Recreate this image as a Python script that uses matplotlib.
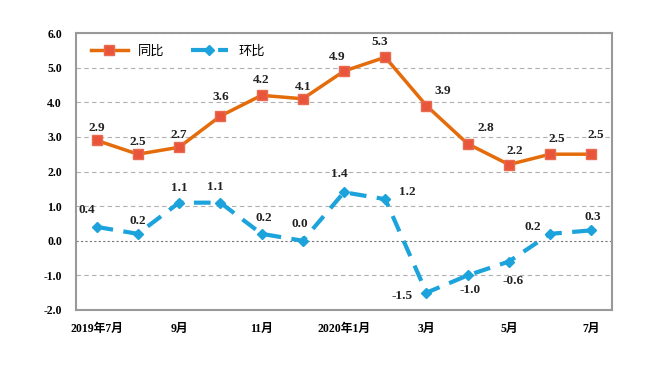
import matplotlib
matplotlib.use("Agg")
import matplotlib.pyplot as plt

plt.rcParams['font.family'] = ['Liberation Serif', 'Noto Sans CJK SC', 'DejaVu Sans']

months = ['2019年7月', '8月', '9月', '10月', '11月', '12月', '2020年1月',
          '2月', '3月', '4月', '5月', '6月', '7月']
tongbi = [2.9, 2.5, 2.7, 3.6, 4.2, 4.1, 4.9, 5.3, 3.9, 2.8, 2.2, 2.5, 2.5]
huanbi = [0.4, 0.2, 1.1, 1.1, 0.2, 0.0, 1.4, 1.2, -1.5, -1.0, -0.6, 0.2, 0.3]

# label offsets in pixels (dx, dy), dy up positive
tongbi_off = [(0, 12), (0, 12), (0, 12), (0, 19), (0, 15), (0, 12), (-7, 14),
              (-6, 15), (16, 15), (18, 16), (6, 14), (7, 15), (4, 19)]
huanbi_off = [(-10, 17), (0, 13), (0, 15), (-5, 16), (2, 16), (-3, 17), (-5, 18),
              (22, 7), (-24, -3), (2, -15), (4, -19), (-17, 7), (1, 13)]

orange = '#E46C0A'
blue = '#1CA3DC'

fig = plt.figure(figsize=(6.56, 3.66), dpi=100)
ax = fig.add_axes([76 / 656, 1 - 310 / 366, (612 - 76) / 656, (310 - 33) / 366])

x = list(range(len(months)))
ax.plot(x, tongbi, color=orange, linewidth=2.5, marker='s', markersize=7,
        markerfacecolor='#E8553A', markeredgecolor='#E86A50', label='同比', zorder=3)
ax.plot(x, huanbi, color=blue, linewidth=3, linestyle=(0, (4, 2.5)), marker='D',
        markersize=5, markerfacecolor=blue, markeredgecolor=blue, label='环比', zorder=3)

for i, v in enumerate(tongbi):
    dx, dy = tongbi_off[i]
    ax.annotate('%.1f' % v, (i, v), xytext=(dx, dy), textcoords='offset pixels',
                ha='center', va='center', fontsize=9.5, fontweight='bold', color='#222222')
for i, v in enumerate(huanbi):
    dx, dy = huanbi_off[i]
    ax.annotate('%.1f' % v, (i, v), xytext=(dx, dy), textcoords='offset pixels',
                ha='center', va='center', fontsize=9.5, fontweight='bold', color='#222222')

ax.set_xlim(-0.5, len(months) - 0.5)
ax.set_ylim(-2, 6)
ax.set_yticks(range(-2, 7))
ax.set_yticklabels(['%.1f' % t for t in range(-2, 7)], fontsize=8.5, fontweight='bold')
ax.set_xticks(x[::2])
ax.set_xticklabels(months[::2], fontsize=8.5, fontweight='bold')
ax.tick_params(axis='both', length=0)
ax.tick_params(axis='y', pad=10)
ax.tick_params(axis='x', pad=9)

ax.yaxis.grid(True, color='#b0b0b0', linestyle=(0, (4, 3)), linewidth=0.8)
for t, gl in zip(ax.get_yticks(), ax.yaxis.get_gridlines()):
    if t == 0:
        gl.set_linestyle((0, (2, 2)))
        gl.set_color('#777777')
ax.set_axisbelow(True)

for s in ax.spines.values():
    s.set_color('#999999')
    s.set_linewidth(1.5)

ax.legend(loc='upper left', ncol=2, frameon=False, fontsize=9.5, handlelength=2.8,
          columnspacing=2.0, bbox_to_anchor=(0.01, 0.99), borderaxespad=0.3)

fig.savefig('out.png', dpi=100)
